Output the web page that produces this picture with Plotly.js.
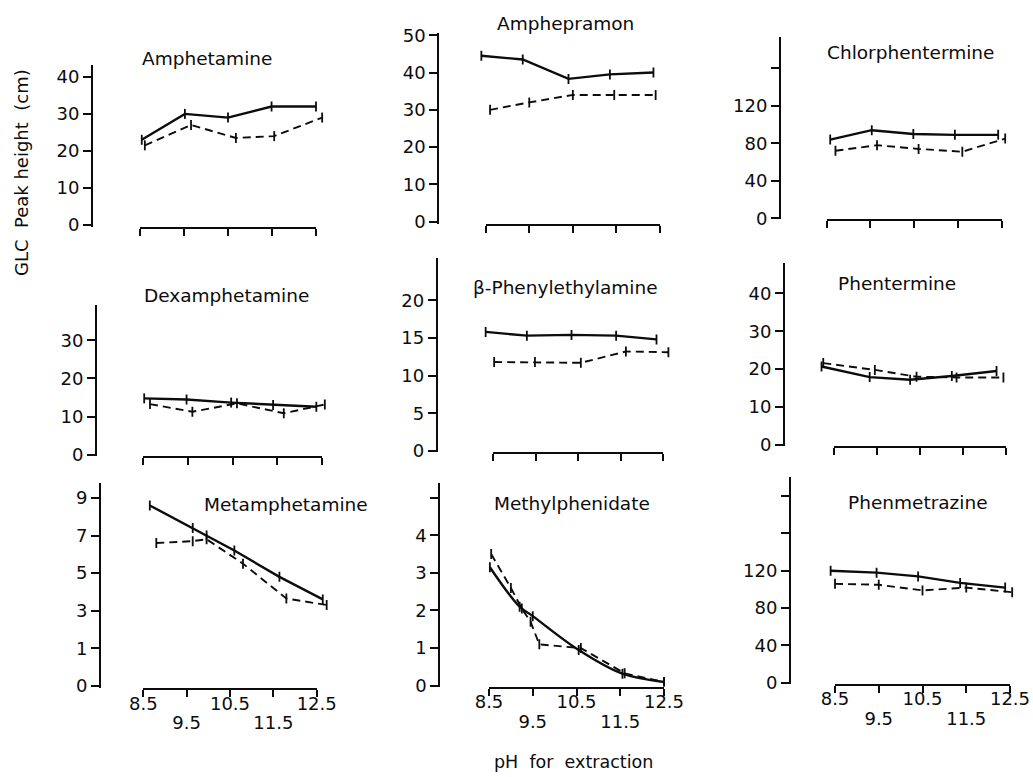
<!DOCTYPE html>
<html>
<head>
<meta charset="utf-8">
<script src="https://cdn.plot.ly/plotly-3.0.1.min.js"></script>
<style>html,body{margin:0;padding:0;background:#fff;}#chart{width:1033px;height:777px;}</style>
</head>
<body>
<div id="chart"></div>
<script>
// ---------- DATA ----------
const pHTicks = [8.5, 9.5, 10.5, 11.5, 12.5];
const titles = ['Amphetamine','Amphepramon','Chlorphentermine','Dexamphetamine','\u03B2-Phenylethylamine','Phentermine','Metamphetamine','Methylphenidate','Phenmetrazine'];

// Amphetamine
const amphetamine_solid_pH = [8.54, 9.52, 10.5, 11.49, 12.5];
const amphetamine_solid    = [23, 30, 29, 32, 32];
const amphetamine_dash_pH  = [8.61, 9.66, 10.68, 11.55, 12.64];
const amphetamine_dash     = [21.5, 27, 23.5, 24, 29];
// Amphepramon
const amphepramon_solid_pH = [8.4, 9.35, 10.4, 11.35, 12.35];
const amphepramon_solid    = [44.5, 43.5, 38.3, 39.5, 40];
const amphepramon_dash_pH  = [8.6, 9.5, 10.5, 11.45, 12.4];
const amphepramon_dash     = [30, 32, 34, 34, 34];
// Chlorphentermine
const chlorphentermine_solid_pH = [8.58, 9.53, 10.48, 11.43, 12.42];
const chlorphentermine_solid    = [84, 94, 90, 89, 89];
const chlorphentermine_dash_pH  = [8.7, 9.65, 10.6, 11.6, 12.58];
const chlorphentermine_dash     = [72, 78, 74, 71, 85];
// Dexamphetamine
const dexamphetamine_solid_pH = [8.52, 9.47, 10.47, 11.41, 12.38];
const dexamphetamine_solid    = [14.8, 14.5, 13.7, 13.1, 12.6];
const dexamphetamine_dash_pH  = [8.65, 9.6, 10.6, 11.65, 12.57];
const dexamphetamine_dash     = [13.3, 11.3, 13.5, 10.9, 13.2];
// beta-Phenylethylamine
const phenylethylamine_solid_pH = [8.32, 9.29, 10.34, 11.39, 12.34];
const phenylethylamine_solid    = [15.8, 15.3, 15.4, 15.3, 14.8];
const phenylethylamine_dash_pH  = [8.52, 9.48, 10.56, 11.62, 12.62];
const phenylethylamine_dash     = [11.8, 11.8, 11.7, 13.2, 13.1];
// Phentermine
const phentermine_solid_pH = [8.21, 9.33, 10.27, 11.24, 12.28];
const phentermine_solid    = [20.7, 17.9, 17.2, 18.2, 19.5];
const phentermine_dash_pH  = [8.25, 9.45, 10.42, 11.35, 12.44];
const phentermine_dash     = [21.6, 19.8, 18, 17.8, 17.8];
// Metamphetamine
const metamphetamine_solid_pH = [8.65, 9.64, 9.96, 10.6, 11.64, 12.64];
const metamphetamine_solid    = [8.6, 7.4, 7.0, 6.2, 4.8, 3.6];
const metamphetamine_dash_pH  = [8.8, 9.64, 9.96, 10.8, 11.8, 12.73];
const metamphetamine_dash     = [6.6, 6.7, 6.8, 5.5, 3.65, 3.3];
// Methylphenidate
const methylphenidate_solid_pH = [8.52, 9.2, 9.5, 10.55, 11.55, 12.5];
const methylphenidate_solid    = [3.15, 2.1, 1.85, 0.95, 0.32, 0.1];
const methylphenidate_dash_pH  = [8.55, 9.0, 9.25, 9.45, 9.65, 10.6, 11.6, 12.5];
const methylphenidate_dash     = [3.5, 2.6, 2.05, 1.7, 1.1, 1.0, 0.33, 0.1];
// Phenmetrazine
const phenmetrazine_solid_pH = [8.4, 9.45, 10.4, 11.36, 12.39];
const phenmetrazine_solid    = [120, 118, 114, 107, 102];
const phenmetrazine_dash_pH  = [8.5, 9.5, 10.5, 11.5, 12.55];
const phenmetrazine_dash     = [106, 105, 99, 102, 97];

// y tick values / labels per panel
const yTickVals = [
  [0,10,20,30,40], [0,10,20,30,40,50], [0,40,80,120,160],
  [0,10,20,30], [0,5,10,15,20], [0,10,20,30,40],
  [-1,1,3,5,7,9], [0,1,2,3,4,5], [0,40,80,120,160,200]
];
const yTickText = [
  ['0','10','20','30','40'], ['0','10','20','30','40','50'], ['0','40','80','120',''],
  ['0','10','20','30'], ['0','5','10','15','20'], ['0','10','20','30','40'],
  ['0','1','3','5','7','9'], ['0','1','2','3','4',''], ['0','40','80','120','','']
];
const xTickTextBottom = ['8.5','','10.5','','12.5'];
const xTickValsLower = [9.5, 11.5];
const xTickTextLower = ['9.5','11.5'];

const series = [
  [amphetamine_solid_pH, amphetamine_solid, amphetamine_dash_pH, amphetamine_dash],
  [amphepramon_solid_pH, amphepramon_solid, amphepramon_dash_pH, amphepramon_dash],
  [chlorphentermine_solid_pH, chlorphentermine_solid, chlorphentermine_dash_pH, chlorphentermine_dash],
  [dexamphetamine_solid_pH, dexamphetamine_solid, dexamphetamine_dash_pH, dexamphetamine_dash],
  [phenylethylamine_solid_pH, phenylethylamine_solid, phenylethylamine_dash_pH, phenylethylamine_dash],
  [phentermine_solid_pH, phentermine_solid, phentermine_dash_pH, phentermine_dash],
  [metamphetamine_solid_pH, metamphetamine_solid, metamphetamine_dash_pH, metamphetamine_dash],
  [methylphenidate_solid_pH, methylphenidate_solid, methylphenidate_dash_pH, methylphenidate_dash],
  [phenmetrazine_solid_pH, phenmetrazine_solid, phenmetrazine_dash_pH, phenmetrazine_dash]
];

// ---------- LAYOUT GEOMETRY (pixels) ----------
const W = 1033, H = 777;
const geom = [
  {xl:140,   xr:316,    yx:92,    yb:227,   yt:65,    r:[-0.54, 43.2]},
  {xl:485.7, xr:660,    yx:438.3, yb:224,   yt:33,    r:[-0.6, 50.6]},
  {xl:826.7, xr:1001.7, yx:780,   yb:219.3, yt:37,    r:[-1.07, 193.4]},
  {xl:143.3, xr:321.7,  yx:96,    yb:456,   yt:305,   r:[-0.26, 39.2]},
  {xl:493.3, xr:663.3,  yx:436.7, yb:452,   yt:258,   r:[-0.13, 25.6]},
  {xl:834,   xr:1006,   yx:784,   yb:446,   yt:263.3, r:[-0.26, 47.9]},
  {xl:143.3, xr:316.7,  yx:100,   yb:688.3, yt:482.7, r:[-1.13, 9.81]},
  {xl:489,   xr:664,    yx:439.3, yb:686.5, yt:483.3, r:[-0.02, 5.38]},
  {xl:835,   xr:1010,   yx:790,   yb:683.5, yt:476.7, r:[-0.86, 220.9]}
];
const titlePos = [[207,58],[565,23],[910,52],[226,295],[565,288],[897,283],[286,505],[572,503],[918,502]];

const INK = '#0c0c0c';
const FONT = 'DejaVu Sans';
const TICK = 18;
const traces = [];
const layout = {
  width: W, height: H,
  margin: {l:0, r:0, t:0, b:0},
  paper_bgcolor: '#fff', plot_bgcolor: 'rgba(0,0,0,0)',
  showlegend: false,
  font: {family: FONT, color: INK},
  annotations: []
};

for (let i = 0; i < 9; i++) {
  const n = i + 1, g = geom[i];
  const bottom = i >= 6;
  const pxPerPH = (g.xr - g.xl) / 4;
  const ppu = (g.yb - g.yt) / (g.r[1] - g.r[0]);
  const err = 5 / ppu;

  // data x-axis (wider, same scale), used for plotting; carries the lower-row pH labels
  layout['xaxis' + n] = {
    domain: [(g.xl - 0.5 * pxPerPH) / W, (g.xr + 0.5 * pxPerPH) / W],
    range: [8.0, 13.0], anchor: 'y' + n, fixedrange: true,
    showgrid: false, zeroline: false, showline: false, ticks: '',
    visible: bottom,
    tickvals: xTickValsLower, ticktext: xTickTextLower,
    ticklabelstandoff: 22,
    tickfont: {family: FONT, size: TICK, color: INK}
  };
  // visible x-axis line 8.5..12.5
  layout['xaxis' + (n + 9)] = {
    domain: [g.xl / W, g.xr / W], range: [8.5, 12.5], anchor: 'y' + n, fixedrange: true,
    showgrid: false, zeroline: false, showline: true, linewidth: 2, linecolor: INK,
    ticks: 'outside', ticklen: 7, tickwidth: 2, tickcolor: INK,
    tickvals: pHTicks, ticktext: xTickTextBottom, showticklabels: bottom,
    ticklabelstandoff: -9,
    tickfont: {family: FONT, size: TICK, color: INK}
  };
  layout['yaxis' + n] = {
    domain: [1 - g.yb / H, 1 - g.yt / H], range: g.r, anchor: 'free', position: g.yx / W,
    fixedrange: true, showgrid: false, zeroline: false, showline: true, linewidth: 2, linecolor: INK,
    ticks: 'outside', ticklen: 8, tickwidth: 2, tickcolor: INK,
    tickvals: yTickVals[i], ticktext: yTickText[i],
    tickfont: {family: FONT, size: TICK, color: INK}
  };

  const s = series[i];
  const shape = (i === 7) ? 'spline' : 'linear';
  traces.push({
    x: s[0], y: s[1], xaxis: 'x' + n, yaxis: 'y' + n, mode: 'lines',
    line: {color: INK, width: 2.4, shape: shape}, hoverinfo: 'skip',
    error_y: {type: 'constant', value: err, width: 0, thickness: 1.8, color: INK}
  });
  traces.push({
    x: s[2], y: s[3], xaxis: 'x' + n, yaxis: 'y' + n, mode: 'lines',
    line: {color: INK, width: 1.9, dash: '8px,5px'}, hoverinfo: 'skip',
    error_y: {type: 'constant', value: err, width: 0, thickness: 1.8, color: INK}
  });
  traces.push({x: [], y: [], xaxis: 'x' + (n + 9), yaxis: 'y' + n, mode: 'lines', hoverinfo: 'skip'});

  layout.annotations.push({
    text: titles[i], xref: 'paper', yref: 'paper',
    x: titlePos[i][0] / W, y: 1 - titlePos[i][1] / H,
    xanchor: 'center', yanchor: 'middle', showarrow: false,
    font: {family: FONT, size: 18.5, color: INK}
  });
}

layout.annotations.push({
  text: 'GLC\u00a0\u00a0Peak\u00a0height\u00a0\u00a0(cm)', xref: 'paper', yref: 'paper',
  x: 22 / W, y: 1 - 173 / H, xanchor: 'center', yanchor: 'middle', textangle: -90,
  showarrow: false, font: {family: FONT, size: 18, color: INK}
});
layout.annotations.push({
  text: 'pH\u00a0\u00a0for\u00a0\u00a0extraction', xref: 'paper', yref: 'paper',
  x: 573 / W, y: 1 - 762 / H, xanchor: 'center', yanchor: 'middle',
  showarrow: false, font: {family: FONT, size: 17.5, color: INK}
});

Plotly.newPlot('chart', traces, layout, {displayModeBar: false, staticPlot: true});
</script>
</body>
</html>
